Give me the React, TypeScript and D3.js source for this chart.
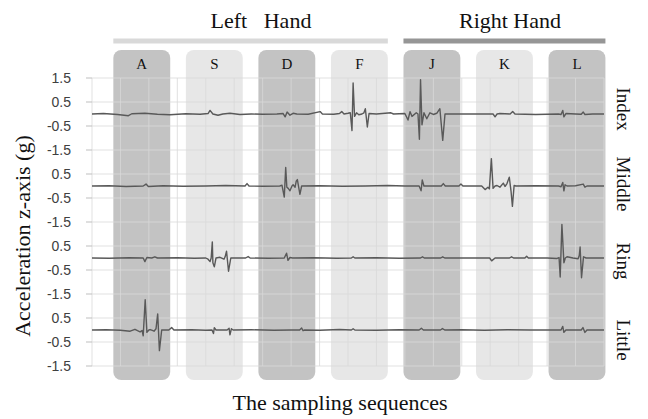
import React from 'react';
import * as d3 from 'd3';

// ---------------- data ----------------
const bandLabels = ['A', 'S', 'D', 'F', 'J', 'K', 'L'];
const bandDark = [true, false, true, false, true, false, true];
const bandStart = [75, 330, 585, 840, 1095, 1350, 1605]; // sample index
const bandSpan = 200;

const handLabels = ['Left   Hand', 'Right Hand'];
const handFirstBand = [0, 4];
const handLastBand = [3, 6];

const fingerLabels = ['Index', 'Middle', 'Ring', 'Little'];
const fingerOffset = [9, 6, 3, 0];

const yTickValues = [10.5, 9.5, 8.5, 7.5, 6.5, 5.5, 4.5, 3.5, 2.5, 1.5, 0.5, -0.5, -1.5];
const yTickLabels = ['1.5', '0.5', '-0.5', '-1.5', '0.5', '-0.5', '-1.5', '0.5', '-0.5', '-1.5', '0.5', '-0.5', '-1.5'];

const indexSeries: [number, number][] = [
  [0, 0], [40, 0.02], [90, -0.02], [128, -0.07], [140, 0.01], [186, 0.03], [230, -0.01], [274, -0.03],
  [330, 0.01], [380, -0.01], [408, 0.02], [415, 0.15], [425, 0.0], [443, -0.05], [460, 0.0], [485, 0.03],
  [520, -0.02], [560, 0.0], [600, -0.01], [650, 0.0], [672, 0.02], [679, -0.12], [686, 0.08], [696, -0.05],
  [707, 0.03], [720, 0], [760, -0.01], [802, 0.1], [810, 0.0], [850, -0.01], [870, 0.02], [878, 0.1],
  [886, 0.0], [900, 0.03], [908, 0.05], [914, -0.69], [918, 1.29], [923, -0.1], [930, 0.05], [938, -0.03],
  [949, 0.0], [956, 0.05], [961, 0.22], [968, -0.54], [974, 0.02], [1000, 0], [1051, 0.05], [1060, 0],
  [1100, 0.02], [1111, -0.25], [1118, 0.1], [1125, -0.1], [1140, 0.05], [1146, 0.0], [1151, -1.05],
  [1155, 1.43], [1160, -0.45], [1167, 0.05], [1177, -0.2], [1188, 0.05], [1200, -0.02], [1212, 0.03],
  [1223, 0.22], [1233, -1.1], [1241, 0.0], [1300, 0.0], [1380, 0.0], [1410, 0.0], [1417, -0.12],
  [1424, 0.0], [1434, 0.02], [1470, 0.0], [1479, 0.1], [1487, 0], [1560, -0.02], [1640, 0], [1649, -0.02],
  [1655, 0.15], [1659, -0.12], [1666, 0.02], [1700, 0.0], [1720, -0.01], [1727, 0.08], [1733, -0.02],
  [1760, 0.0], [1800, 0.0],
];

const middleSeries: [number, number][] = [
  [0, 0], [60, 0.01], [120, -0.02], [180, 0], [190, 0.08], [198, -0.02], [250, 0.01], [320, -0.01],
  [400, 0.0], [470, 0.02], [538, 0], [545, 0.1], [552, 0], [600, -0.01], [660, 0.0], [668, 0.03],
  [676, -0.46], [681, 0.77], [685, -0.05], [690, -0.1], [696, -0.2], [703, 0.0], [707, 0.05], [714, -0.05],
  [718, 0.2], [722, 0.27], [731, -0.35], [737, 0], [800, 0.01], [880, -0.01], [960, 0.0], [1040, 0.02],
  [1100, 0.0], [1150, 0.0], [1157, -0.2], [1161, 0.25], [1167, 0], [1200, 0.0], [1228, 0.0], [1235, 0.1],
  [1242, 0], [1290, 0], [1297, 0.08], [1304, 0], [1370, 0], [1382, -0.15], [1392, -0.05], [1397, -0.12],
  [1404, 1.14], [1410, -0.1], [1417, 0.0], [1424, 0.02], [1434, -0.05], [1446, 0.12], [1452, -0.02],
  [1459, 0.1], [1467, 0.37], [1473, -0.2], [1478, -0.85], [1484, 0.02], [1490, 0], [1560, 0.01],
  [1640, 0], [1649, -0.03], [1655, 0.15], [1659, -0.2], [1663, 0.05], [1670, 0], [1700, 0.01],
  [1727, 0.08], [1733, -0.05], [1740, 0], [1800, 0],
];

const ringSeries: [number, number][] = [
  [0, 0], [60, -0.01], [130, 0.01], [180, 0], [186, -0.15], [193, 0.02], [210, 0], [221, 0.05], [230, 0],
  [300, 0.01], [360, -0.01], [400, 0], [408, -0.05], [415, -0.15], [419, 0.0], [423, 0.67], [425, -0.2],
  [430, -0.37], [436, 0], [450, 0.03], [464, -0.05], [468, 0.05], [473, 0.28], [480, -0.55], [488, 0],
  [540, 0.0], [549, 0.06], [556, 0], [620, -0.01], [676, 0], [684, 0.2], [689, -0.1], [696, 0.02],
  [705, 0], [780, 0.01], [860, -0.01], [912, 0], [918, 0.05], [924, 0], [1000, 0.01], [1080, -0.01],
  [1155, 0], [1162, 0.05], [1168, 0], [1226, 0], [1233, 0.05], [1240, 0], [1320, 0.0], [1398, 0],
  [1405, -0.12], [1417, 0], [1468, 0], [1475, 0.05], [1482, 0], [1522, 0], [1528, 0.07], [1534, 0],
  [1600, 0.0], [1635, -0.02], [1642, 0.02], [1646, -0.79], [1652, 1.4], [1659, -0.2], [1664, 0.0],
  [1670, 0.05], [1691, 0.0], [1709, -0.03], [1713, 0.1], [1716, 0.46], [1721, -0.82], [1728, 0.05],
  [1737, 0], [1800, 0],
];

const littleSeries: [number, number][] = [
  [0, 0], [50, 0.01], [100, -0.01], [134, -0.05], [151, 0.03], [160, -0.03], [169, -0.08], [176, -0.02],
  [180, -0.24], [187, 1.26], [193, -0.1], [200, 0.0], [204, 0.02], [212, -0.02], [218, -0.05], [225, 0.05],
  [231, 0.67], [237, -0.86], [245, 0], [270, 0], [280, 0.1], [288, 0], [350, 0.01], [400, -0.01],
  [422, 0], [427, -0.15], [430, 0.1], [436, 0], [475, 0], [482, 0.07], [485, -0.2], [490, 0.05], [496, 0],
  [560, 0.01], [640, -0.01], [700, 0], [730, 0], [737, 0.08], [742, -0.03], [748, 0], [800, -0.01],
  [870, 0.02], [912, 0], [918, 0.05], [924, 0], [1000, -0.01], [1080, 0.01], [1150, 0], [1158, 0.07],
  [1165, 0], [1225, 0], [1232, 0.06], [1240, 0], [1300, 0.01], [1380, -0.01], [1460, 0.01], [1540, 0.0],
  [1600, 0], [1649, 0], [1655, 0.15], [1659, -0.1], [1666, 0.0], [1720, 0], [1726, 0.1], [1733, -0.1],
  [1740, 0], [1800, 0],
];

const fingerSeries = [indexSeries, middleSeries, ringSeries, littleSeries];

// ---------------- layout ----------------
const W = 648;
const H = 419;
const plotLeft = 92;
const plotRight = 604;
const plotTop = 78;
const plotBottom = 366;
const bandTop = 50;
const bandBottom = 380;
const handTextX = [261, 510];
const fingerLabelY = [109, 184, 261, 340];

const serif = '"Liberation Serif", "Times New Roman", serif';
const sans = '"Liberation Sans", Arial, sans-serif';

export default function App() {
  const x = d3.scaleLinear().domain([0, 1800]).range([plotLeft, plotRight]);
  const y = d3.scaleLinear().domain([-1.5, 10.5]).range([plotBottom, plotTop]);
  const xGrid = d3.range(0, 1801, 100);

  const line = (offset: number) =>
    d3
      .line<[number, number]>()
      .x((d) => x(d[0]))
      .y((d) => y(d[1] + offset));

  return (
    <svg width={W} height={H} style={{ display: 'block', position: 'absolute', left: 0, top: 0 }}>
      <rect x={0} y={0} width={W} height={H} fill="#ffffff" />

      {/* hand titles and bars */}
      {handLabels.map((h, i) => {
        const x0 = x(bandStart[handFirstBand[i]]);
        const x1 = x(bandStart[handLastBand[i]] + bandSpan);
        return (
          <g key={h}>
            <text
              x={handTextX[i]}
              y={28}
              textAnchor="middle"
              fontFamily={serif}
              fontSize={22}
              fill="#111"
              style={{ whiteSpace: 'pre' }}
            >
              {h}
            </text>
            <rect x={x0} y={38.5} width={x1 - x0} height={5} fill={i === 0 ? '#d9d9d9' : '#969696'} />
          </g>
        );
      })}

      {/* bands */}
      {bandLabels.map((b, i) => {
        const x0 = x(bandStart[i]);
        const x1 = x(bandStart[i] + bandSpan);
        return (
          <g key={b}>
            <rect
              x={x0}
              y={bandTop}
              width={x1 - x0}
              height={bandBottom - bandTop}
              rx={8}
              ry={8}
              fill={bandDark[i] ? '#c3c3c3' : '#e7e7e7'}
            />
            <text x={(x0 + x1) / 2} y={69} textAnchor="middle" fontFamily={serif} fontSize={15} fill="#111">
              {b}
            </text>
          </g>
        );
      })}

      {/* grid */}
      <g stroke="#d9d9d9" strokeOpacity={0.8} strokeWidth={1}>
        {yTickValues.map((v) => (
          <line key={'h' + v} x1={plotLeft} x2={plotRight} y1={y(v)} y2={y(v)} />
        ))}
        {xGrid.map((v) => (
          <line key={'v' + v} x1={x(v)} x2={x(v)} y1={plotTop} y2={plotBottom} />
        ))}
      </g>

      {/* y ticks */}
      {yTickValues.map((v, i) => (
        <g key={'t' + i}>
          <line x1={plotLeft - 6} x2={plotLeft} y1={y(v)} y2={y(v)} stroke="#bfbfbf" />
          <text
            x={71}
            y={y(v)}
            dy="0.35em"
            textAnchor="end"
            fontFamily={sans}
            fontSize={14}
            fill="#404040"
          >
            {yTickLabels[i]}
          </text>
        </g>
      ))}

      {/* signals */}
      {fingerSeries.map((s, i) => (
        <path
          key={'s' + i}
          d={line(fingerOffset[i])(s) || ''}
          fill="none"
          stroke="#595959"
          strokeWidth={1.4}
          strokeLinejoin="round"
        />
      ))}

      {/* finger labels */}
      {fingerLabels.map((f, i) => (
        <text
          key={f}
          transform={`translate(617, ${fingerLabelY[i]}) rotate(90)`}
          textAnchor="middle"
          fontFamily={serif}
          fontSize={19}
          fill="#111"
        >
          {f}
        </text>
      ))}

      {/* axis titles */}
      <text
        transform={`translate(30, 236) rotate(-90)`}
        textAnchor="middle"
        fontFamily={serif}
        fontSize={22}
        fill="#111"
      >
        Acceleration z-axis (g)
      </text>
      <text x={340} y={410} textAnchor="middle" fontFamily={serif} fontSize={22} fill="#111">
        The sampling sequences
      </text>
    </svg>
  );
}
